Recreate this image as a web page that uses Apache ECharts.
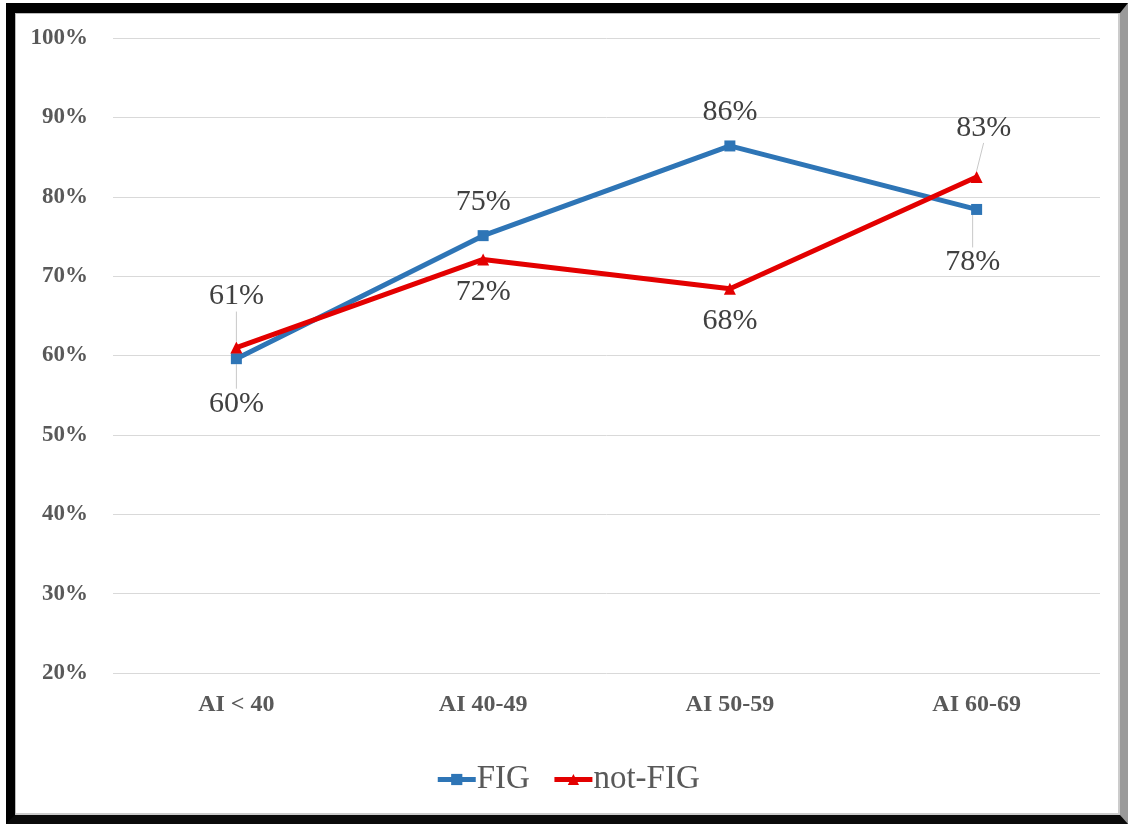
<!DOCTYPE html>
<html>
<head>
<meta charset="utf-8">
<script src="https://cdn.jsdelivr.net/npm/echarts@6/dist/echarts.min.js"></script>
<style>
html,body{margin:0;padding:0;background:#fff;width:1128px;height:824px;overflow:hidden;}
#frame{position:absolute;left:6px;top:3px;width:1105px;height:802px;border-left:9px solid #000;border-top:10px solid #000;border-bottom:9px solid #0a0a0a;border-right:8px solid #9a9a9a;box-shadow:inset 1px 1px 0 #bbb, inset -2px -2px 0 #ccc;}
#chart{position:absolute;left:15px;top:13px;width:1105px;height:802px;}
</style>
</head>
<body>
<div id="frame"></div>
<div id="chart"></div>
<script>
var categories = ['AI < 40', 'AI 40-49', 'AI 50-59', 'AI 60-69'];
var figValues = [59.6, 75.1, 86.4, 78.4];
var notFigValues = [61.0, 72.1, 68.4, 82.5];
var figLabels = ['60%', '75%', '86%', '78%'];
var notFigLabels = ['61%', '72%', '68%', '83%'];
var yTicks = [20, 30, 40, 50, 60, 70, 80, 90, 100];

var figOffsets = [[0, 45], [0, -34], [0, -34], [-4, 53]];
var notFigOffsets = [[0, -51], [0, 33], [0, 32], [7, -49]];
var figLeader = [true, false, false, true];
var notFigLeader = [true, false, false, true];

var serif = '"Liberation Serif", "DejaVu Serif", serif';

function buildData(vals, labels, leaders) {
  return vals.map(function (v, i) {
    return {
      value: v,
      label: { formatter: labels[i] },
      labelLine: { show: leaders[i] }
    };
  });
}

var offsetsBySeries = [figOffsets, notFigOffsets];

var chart = echarts.init(document.getElementById('chart'));
var labelStyle = {
  show: true, position: 'inside', fontFamily: serif, fontSize: 30,
  color: '#404040'
};
chart.setOption({
  animation: false,
  backgroundColor: 'transparent',
  grid: { left: 98, right: 20, top: 25, bottom: 142 },
  xAxis: {
    type: 'category', data: categories, boundaryGap: true,
    axisLine: { show: false }, axisTick: { show: false },
    axisLabel: { fontFamily: serif, fontSize: 24, fontWeight: 'bold', color: '#595959', margin: 20 }
  },
  yAxis: {
    type: 'value', min: 20, max: 100, interval: 10,
    axisLine: { show: false }, axisTick: { show: false },
    axisLabel: { fontFamily: serif, fontSize: 23, fontWeight: 'bold', color: '#595959', margin: 25,
      formatter: function (v) { return yTicks.indexOf(v) >= 0 ? v + '%' : ''; } },
    splitLine: { lineStyle: { color: '#d9d9d9', width: 1 } }
  },
  legend: {
    bottom: 14, left: 'center', itemWidth: 38, itemHeight: 14, itemGap: 22,
    lineStyle: { width: 5 },
    textStyle: { fontFamily: serif, fontSize: 33, color: '#595959', padding: [0, 0, 0, -4] },
    data: ['FIG', 'not-FIG']
  },
  series: [
    {
      name: 'FIG', type: 'line', data: buildData(figValues, figLabels, figLeader),
      symbol: 'rect', symbolSize: 11,
      lineStyle: { color: '#2E75B6', width: 5 },
      itemStyle: { color: '#2E75B6' },
      label: labelStyle,
      labelLine: { lineStyle: { color: '#c8c8c8', width: 1 } },
      labelLayout: function (p) { var o = offsetsBySeries[0][p.dataIndex]; return { dx: o[0], dy: o[1] }; },
      z: 3
    },
    {
      name: 'not-FIG', type: 'line', data: buildData(notFigValues, notFigLabels, notFigLeader),
      symbol: 'triangle', symbolSize: 12,
      lineStyle: { color: '#E30000', width: 5 },
      itemStyle: { color: '#E30000' },
      label: labelStyle,
      labelLine: { lineStyle: { color: '#c8c8c8', width: 1 } },
      labelLayout: function (p) { var o = offsetsBySeries[1][p.dataIndex]; return { dx: o[0], dy: o[1] }; },
      z: 4
    }
  ]
});
</script>
</body>
</html>
